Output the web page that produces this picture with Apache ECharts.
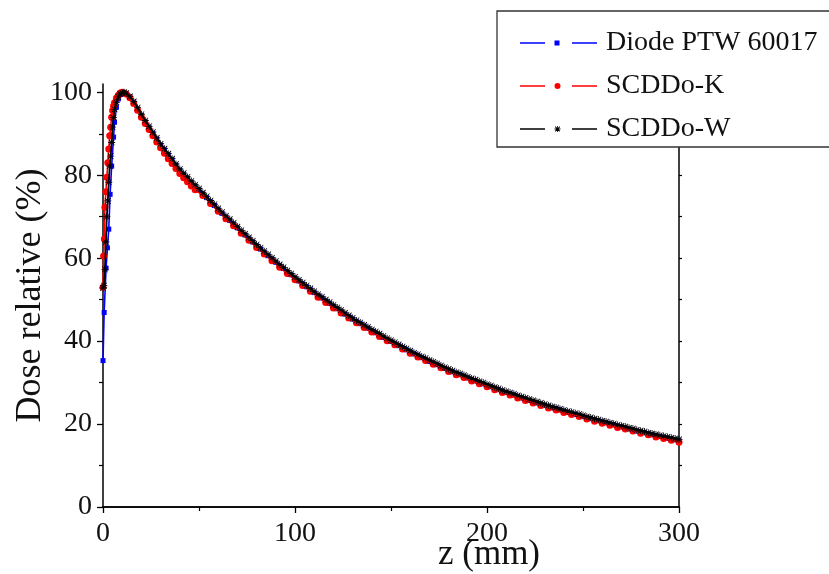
<!DOCTYPE html>
<html>
<head>
<meta charset="utf-8">
<script src="https://cdn.jsdelivr.net/npm/echarts@6/dist/echarts.min.js"></script>
<style>html,body{margin:0;padding:0;background:#fff;}#c{width:829px;height:574px;}</style>
</head>
<body>
<div id="c"></div>
<script>
// ---- data ----
const seriesNames = ['Diode PTW 60017', 'SCDDo-K', 'SCDDo-W'];
const xTicks = [0, 100, 200, 300];
const yTicks = [0, 20, 40, 60, 80, 100];

// common 2 mm grid (12 ... 300 mm)
const zGrid2 = [12,14,16,18,20,22,24,26,28,30,32,34,36,38,40,42,44,46,48,50,
  52,54,56,58,60,62,64,66,68,70,72,74,76,78,80,82,84,86,88,90,
  92,94,96,98,100,102,104,106,108,110,112,114,116,118,120,122,124,126,128,130,
  132,134,136,138,140,142,144,146,148,150,152,154,156,158,160,162,164,166,168,170,
  172,174,176,178,180,182,184,186,188,190,192,194,196,198,200,202,204,206,208,210,
  212,214,216,218,220,222,224,226,228,230,232,234,236,238,240,242,244,246,248,250,
  252,254,256,258,260,262,264,266,268,270,272,274,276,278,280,282,284,286,288,290,
  292,294,296,298,300];

// Diode PTW 60017
const diodeBuildZ = [0,0.6,1.6,2.3,3,3.7,4.5,5.5,6,7,8,9,10];
const diodeBuildDose = [35.3,46.9,57.6,62.5,67.0,75.4,82.2,89.2,92.8,96.4,98.4,99.5,99.9];
const diodeDose = [99.7,98.9,97.6,96.0,94.4,92.9,91.5,90.1,88.7,87.3,
  86.1,84.9,83.7,82.4,81.2,80.2,79.3,78.3,77.4,76.5,
  75.5,74.6,73.6,72.7,71.7,70.8,69.9,69.1,68.2,67.3,
  66.4,65.6,64.7,63.9,63.0,62.2,61.4,60.6,59.8,59.0,
  58.2,57.5,56.7,56.0,55.2,54.5,53.8,53.1,52.4,51.7,
  51.0,50.4,49.7,49.1,48.4,47.8,47.2,46.5,45.9,45.3,
  44.7,44.2,43.6,43.1,42.5,42.0,41.5,40.9,40.4,39.9,
  39.4,38.9,38.4,37.9,37.4,36.9,36.5,36.0,35.6,35.1,
  34.7,34.3,33.8,33.4,33.0,32.6,32.2,31.9,31.5,31.1,
  30.7,30.4,30.0,29.7,29.3,29.0,28.6,28.3,27.9,27.6,
  27.3,27.0,26.6,26.3,26.0,25.7,25.4,25.1,24.8,24.5,
  24.2,23.9,23.7,23.4,23.1,22.8,22.6,22.3,22.1,21.8,
  21.5,21.3,21.0,20.8,20.5,20.3,20.0,19.8,19.5,19.3,
  19.1,18.8,18.6,18.3,18.1,17.9,17.6,17.4,17.2,17.0,
  16.8,16.6,16.4,16.2,16.0];

// SCDDo-K
const kZ = [0,0.3,0.7,1,1.5,2,2.5,3,3.5,4,4.5,5,5.5,6,7,8,9,10,
  12,14,16,18,20,22,24,26,28,30,32,34,36,38,40,42,44,46,48,
  52,56,60,64,68,72,76,80,84,88,92,96,100,104,108,112,116,120,124,128,
  132,136,140,144,148,152,156,160,164,168,172,176,180,184,188,192,196,200,
  204,208,212,216,220,224,228,232,236,240,244,248,252,256,260,264,268,272,
  276,280,284,288,292,296,300];
const kDose = [53.0,60.5,64.6,72.3,76.0,79.5,83.0,86.3,89.5,91.6,94.0,95.6,96.7,97.5,98.6,99.3,99.8,100.0,
  99.6,98.7,97.3,95.7,94.0,92.5,91.0,89.5,88.0,86.6,85.3,84.0,82.8,81.6,80.4,79.4,78.4,77.4,76.5,
  75.1,73.2,71.3,69.5,67.8,66.0,64.3,62.6,61.0,59.4,57.8,56.3,54.8,53.4,52.0,50.6,49.3,48.0,46.8,45.6,
  44.4,43.3,42.2,41.1,40.1,39.1,38.1,37.1,36.2,35.3,34.4,33.6,32.7,31.9,31.2,30.4,29.7,29.0,
  28.3,27.6,27.0,26.3,25.7,25.1,24.5,23.9,23.4,22.8,22.3,21.8,21.2,20.7,20.2,19.7,19.2,18.8,
  18.3,17.8,17.4,16.9,16.5,16.1,15.6];

// SCDDo-W
const wBuildZ = [0,0.5,1,1.5,2,2.5,3,3.5,4,4.5,5,5.5,6,7,8,9,10,11];
const wBuildDose = [52.8,53.4,57.3,63.9,70.0,73.8,78.3,82.2,84.6,87.9,91.6,93.9,95.9,97.6,98.9,99.6,99.9,100.0];
const wDose = [99.8,99.0,97.8,96.3,94.7,93.2,91.8,90.4,89.0,87.6,
  86.4,85.2,84.0,82.7,81.5,80.5,79.6,78.6,77.7,76.8,
  75.8,74.9,73.9,73.0,72.0,71.1,70.2,69.4,68.5,67.6,
  66.7,65.9,65.0,64.2,63.3,62.5,61.7,60.9,60.1,59.3,
  58.5,57.8,57.0,56.3,55.5,54.8,54.1,53.4,52.7,52.0,
  51.3,50.7,50.0,49.4,48.7,48.1,47.5,46.8,46.2,45.6,
  45.0,44.5,43.9,43.4,42.8,42.3,41.8,41.2,40.7,40.2,
  39.7,39.2,38.7,38.2,37.7,37.2,36.8,36.3,35.9,35.4,
  35.0,34.6,34.1,33.7,33.3,32.9,32.5,32.2,31.8,31.4,
  31.0,30.7,30.3,30.0,29.6,29.3,28.9,28.6,28.2,27.9,
  27.6,27.3,26.9,26.6,26.3,26.0,25.7,25.4,25.1,24.8,
  24.5,24.2,24.0,23.7,23.4,23.1,22.9,22.6,22.4,22.1,
  21.8,21.6,21.3,21.1,20.8,20.6,20.3,20.1,19.8,19.6,
  19.4,19.1,18.9,18.6,18.4,18.2,17.9,17.7,17.5,17.3,
  17.1,16.9,16.7,16.5,16.3];

// ---- build ----
function pairs(zs, vs) { return zs.map((z, i) => [z, vs[i]]); }
const diodeData = pairs(diodeBuildZ.concat(zGrid2), diodeBuildDose.concat(diodeDose));
const kData = pairs(kZ, kDose);
const wData = pairs(wBuildZ.concat(zGrid2), wBuildDose.concat(wDose));

const FONT = '"Liberation Serif", "Times New Roman", serif';
const asterisk = 'path://M4.4,0h1.2v10h-1.2z M0,4.4h10v1.2h-10z M0.6,1.4L1.4,0.6L9.4,8.6L8.6,9.4z M8.6,0.6L9.4,1.4L1.4,9.4L0.6,8.6z';

const legSquare = 'path://M0,2.3h25v1.4h-25z M34.5,0.5h5v5h-5z M52,2.3h25v1.4h-25z M0,0h0.01v6h-0.01z';
const legCircle = 'path://M0,2.3h25v1.4h-25z M34.5,3A3,3 0 1,1 40.5,3A3,3 0 1,1 34.5,3z M52,2.3h25v1.4h-25z';
const legAst = 'path://M0,2.3h25v1.4h-25z M37.1,0h0.8v6h-0.8z M34.5,2.6h6v0.8h-6z M34.8,0.9L35.4,0.3L40.2,5.1L39.6,5.7z M39.6,0.3L40.2,0.9L35.4,5.7L34.8,5.1z M52,2.3h25v1.4h-25z';

const chart = echarts.init(document.getElementById('c'), null, {renderer: 'canvas'});
const axisLineStyle = {color: '#000', width: 1.5};
chart.setOption({
  animation: false,
  backgroundColor: '#fff',
  grid: {left: 103, right: 150, top: 84, bottom: 67, containLabel: false, outerBoundsMode: 'none'},
  legend: {
    orient: 'vertical', left: 497, top: 11,
    padding: [17, 30, 3, 23],
    backgroundColor: '#fff', borderColor: '#333', borderWidth: 1.3,
    itemWidth: 77, itemHeight: 6, itemGap: 13,
    textStyle: {fontFamily: FONT, fontSize: 28, color: '#111', lineHeight: 30, padding: [0, 0, 0, 4]},
    data: [
      {name: seriesNames[0], icon: legSquare},
      {name: seriesNames[1], icon: legCircle},
      {name: seriesNames[2], icon: legAst}
    ],
    z: 10
  },
  xAxis: [{
    type: 'value', min: 0, max: 300, interval: 100, position: 'bottom',
    name: 'z (mm)', nameLocation: 'middle', nameGap: 30, nameMoveOverlap: false,
    nameTextStyle: {fontFamily: FONT, fontSize: 35, color: '#111', padding: [0, 0, 0, 196]},
    axisLine: {show: true, lineStyle: axisLineStyle},
    axisTick: {show: true, inside: false, length: 6, lineStyle: {color: '#000', width: 1.3}},
    minorTick: {show: true, splitNumber: 2, length: 4, lineStyle: {color: '#000', width: 1.2}},
    axisLabel: {fontFamily: FONT, fontSize: 28, color: '#111', margin: 13, customValues: xTicks},
    splitLine: {show: false}
  }, {
    type: 'value', min: 0, max: 300, position: 'top',
    axisLine: {show: true, lineStyle: axisLineStyle},
    axisTick: {show: false}, axisLabel: {show: false}, splitLine: {show: false}
  }],
  yAxis: [{
    type: 'value', min: 0, max: 102, position: 'left',
    name: 'Dose relative (%)', nameLocation: 'middle', nameGap: 54, nameRotate: 90, nameMoveOverlap: false,
    nameTextStyle: {fontFamily: FONT, fontSize: 36, color: '#111'},
    axisLine: {show: true, lineStyle: axisLineStyle},
    axisTick: {show: true, length: 6, customValues: yTicks, lineStyle: {color: '#000', width: 1.3}},
    axisLabel: {fontFamily: FONT, fontSize: 28, color: '#111', margin: 11, customValues: yTicks},
    splitLine: {show: false}
  }, {
    type: 'value', min: 0, max: 102, position: 'left',
    axisLine: {show: false},
    axisTick: {show: true, length: 4, customValues: [10, 30, 50, 70, 90], lineStyle: {color: '#000', width: 1.2}},
    axisLabel: {show: false}, splitLine: {show: false}
  }, {
    type: 'value', min: 0, max: 102, position: 'right',
    axisLine: {show: true, lineStyle: axisLineStyle},
    axisTick: {show: true, length: 3, customValues: [10, 20, 30, 40, 50, 60, 70, 80, 90, 100], lineStyle: {color: '#000', width: 1.2}},
    axisLabel: {show: false}, splitLine: {show: false}
  }],
  series: [{
    name: seriesNames[0], type: 'line', data: diodeData,
    symbol: 'rect', symbolSize: 5, showAllSymbol: true,
    itemStyle: {color: '#0000ff'}, lineStyle: {color: '#0000ff', width: 1.6}, z: 2
  }, {
    name: seriesNames[1], type: 'line', data: kData,
    symbol: 'circle', symbolSize: 7, showAllSymbol: true,
    itemStyle: {color: '#ff0000'}, lineStyle: {color: '#ff0000', width: 1.6}, z: 3
  }, {
    name: seriesNames[2], type: 'line', data: wData,
    symbol: asterisk, symbolSize: 7, showAllSymbol: true,
    itemStyle: {color: '#000'}, lineStyle: {color: '#000', width: 1.8}, z: 4
  }]
});
</script>
</body>
</html>
